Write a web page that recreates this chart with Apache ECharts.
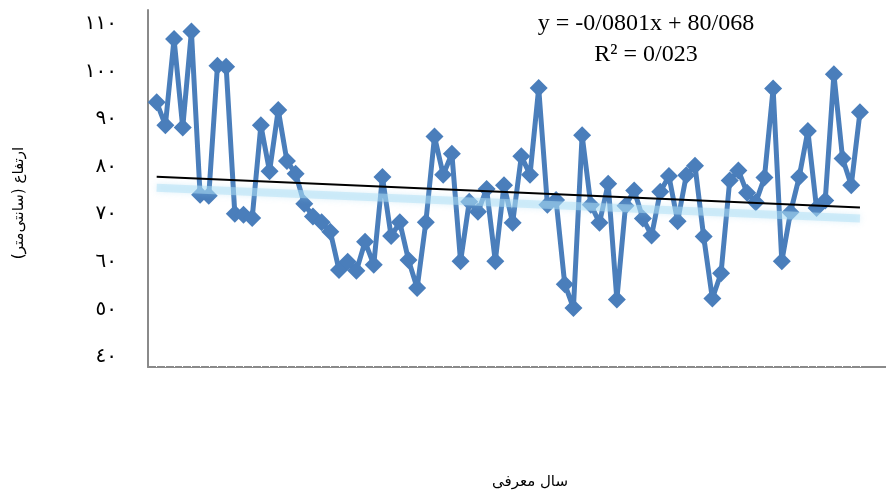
<!DOCTYPE html>
<html>
<head>
<meta charset="utf-8">
<script src="https://cdn.jsdelivr.net/npm/echarts@6.0.0/dist/echarts.min.js"></script>
<style>
html,body{margin:0;padding:0;background:#fff;}
#chart{width:886px;height:494px;}
</style>
</head>
<body>
<div id="chart"></div>
<script>
// Category index (x) of each introduced cultivar
var xIndex = [1,2,3,4,5,6,7,8,9,10,11,12,13,14,15,16,17,18,19,20,
  21,22,23,24,25,26,27,28,29,30,31,32,33,34,35,36,37,38,39,40,
  41,42,43,44,45,46,47,48,49,50,51,52,53,54,55,56,57,58,59,60,
  61,62,63,64,65,66,67,68,69,70,71,72,73,74,75,76,77,78,79,80,81,82];
// Height (cm)
var heights = [95.6,90.8,108.9,90.3,110.5,76.2,76.0,103.3,103.1,72.2,
  72.0,71.3,90.8,81.1,94.0,83.3,80.6,74.3,71.6,70.4,
  68.4,60.4,62.1,60.2,66.3,61.5,79.9,67.5,70.4,62.5,
  56.6,70.4,88.4,80.4,84.8,62.2,74.7,72.6,77.4,62.2,
  78.2,70.3,84.3,80.4,98.6,74.1,75.1,57.4,52.4,88.7,
  74.1,70.3,78.5,54.2,73.9,77.1,71.2,67.6,76.8,80.1,
  70.6,80.3,82.3,67.4,54.4,59.7,79.2,81.3,76.6,74.6,
  79.8,98.5,62.2,72.5,79.9,89.6,73.4,75.0,101.5,83.8,78.2,93.5];
var yTickValues = [40,50,60,70,80,90,100,110];
var yTickLabels = ['٤٠','٥٠','٦٠','٧٠','٨٠','٩٠','١٠٠','١١٠'];
var trendSlope = -0.0801;
var trendIntercept = 80.068;
var equationText = 'y = -0/0801x + 80/068\nR² = 0/023';
var yTitle = 'ارتفاع (سانتی‌متر)';
var xTitle = 'سال معرفی';

var points = xIndex.map(function(x,i){return [x, heights[i]];});
var xFirst = xIndex[0], xLast = xIndex[xIndex.length-1];
var trend = [[xFirst, trendSlope*xFirst+trendIntercept],[xLast, trendSlope*xLast+trendIntercept]];

var chart = echarts.init(document.getElementById('chart'), null, {renderer:'canvas'});
var axisGray = '#8a8a8a';
chart.setOption({
  animation:false,
  backgroundColor:'#fff',
  grid:[
    {left:148, right:0, top:10, bottom:127},
    {left:148, right:0, top:21, bottom:116}
  ],
  xAxis:[
    {type:'value', gridIndex:0, min:0, max:85,
     axisLine:{show:true, lineStyle:{color:axisGray, width:2}},
     axisTick:{show:true, inside:true, length:2, customValues:xIndex, lineStyle:{color:'#fff', width:1}},
     axisLabel:{show:false}, splitLine:{show:false}},
    {type:'value', gridIndex:1, min:0, max:85, show:false}
  ],
  yAxis:[
    {type:'value', gridIndex:0, min:40, max:115,
     axisLine:{show:true, lineStyle:{color:axisGray, width:2}},
     axisTick:{show:false},
     splitLine:{show:false},
     axisLabel:{show:true, customValues:yTickValues, margin:31, color:'#000',
       fontSize:20, fontFamily:'"Liberation Serif","DejaVu Sans",serif', verticalAlign:'bottom',
       formatter:function(v){var k=yTickValues.indexOf(v);return k>=0?yTickLabels[k]:'';}}},
    {type:'value', gridIndex:1, min:40, max:115, show:false}
  ],
  graphic:[
    {type:'text', x:646, y:8, style:{text:equationText, fill:'#000', font:'24px "Liberation Serif", serif', align:'center', lineHeight:31}},
    {type:'text', rotation:Math.PI/2, x:19, y:203, style:{text:yTitle, fill:'#000', font:'15px "DejaVu Sans", "Noto Sans", sans-serif', align:'center', verticalAlign:'middle'}},
    {type:'text', x:530, y:482, style:{text:xTitle, fill:'#000', font:'15px "DejaVu Sans", "Noto Sans", sans-serif', align:'center', verticalAlign:'middle'}}
  ],
  series:[
    {type:'line', xAxisIndex:0, yAxisIndex:0, data:points, z:2,
     symbol:'diamond', symbolSize:18,
     lineStyle:{color:'#4a7ebb', width:5},
     itemStyle:{color:'#4a7ebb'}},
    {type:'line', xAxisIndex:1, yAxisIndex:1, data:trend, z:3, symbol:'none', silent:true,
     lineStyle:{color:'rgba(175,224,246,0.5)', width:8, shadowColor:'rgba(150,210,240,0.6)', shadowBlur:6}},
    {type:'line', xAxisIndex:0, yAxisIndex:0, data:trend, z:4, symbol:'none', silent:true,
     lineStyle:{color:'#000', width:2}}
  ]
});
</script>
</body>
</html>
